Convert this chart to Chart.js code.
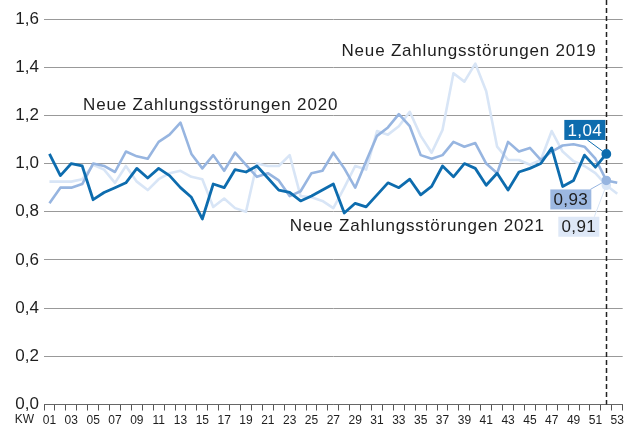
<!DOCTYPE html>
<html>
<head>
  <meta charset="UTF-8">
  <title>Neue Zahlungsstörungen</title>
  <script src="https://cdn.jsdelivr.net/npm/chart.js"></script>
  <style>
    html, body { margin: 0; padding: 0; background: #fff; }
    #wrap { width: 629px; height: 430px; }
  </style>
</head>
<body>
  <div id="wrap"><canvas id="chart" width="629" height="430"></canvas></div>
  <script>
    // Kalenderwochen
    const weeks = ['01','02','03','04','05','06','07','08','09','10',
                   '11','12','13','14','15','16','17','18','19','20',
                   '21','22','23','24','25','26','27','28','29','30',
                   '31','32','33','34','35','36','37','38','39','40',
                   '41','42','43','44','45','46','47','48','49','50',
                   '51','52','53'];

    const y2021 = [1.04, 0.95, 1.00, 0.99, 0.85, 0.88, 0.90, 0.92, 0.98, 0.94,
                   0.98, 0.95, 0.90, 0.86, 0.77, 0.915, 0.90, 0.975, 0.965, 0.99,
                   0.94, 0.89, 0.88, 0.845, 0.865, 0.89, 0.915, 0.795, 0.835, 0.82,
                   0.87, 0.92, 0.90, 0.935, 0.87, 0.905, 0.99, 0.945, 1.00, 0.98,
                   0.91, 0.96, 0.89, 0.965, 0.98, 1.00, 1.065, 0.905, 0.93, 1.035,
                   0.985, 1.04];

    const y2020 = [0.835, 0.90, 0.90, 0.915, 1.00, 0.99, 0.965, 1.05, 1.03, 1.02,
                   1.09, 1.12, 1.17, 1.04, 0.98, 1.035, 0.97, 1.045, 0.995, 0.945,
                   0.96, 0.93, 0.865, 0.885, 0.96, 0.97, 1.045, 0.98, 0.90, 1.01,
                   1.115, 1.15, 1.205, 1.155, 1.035, 1.02, 1.035, 1.09, 1.07, 1.085,
                   1.00, 0.96, 1.09, 1.05, 1.065, 1.015, 1.05, 1.075, 1.08, 1.07,
                   1.02, 0.93, 0.92];

    const y2019 = [0.925, 0.925, 0.925, 0.935, 0.995, 0.975, 0.92, 0.99, 0.925, 0.89,
                   0.935, 0.96, 0.97, 0.945, 0.935, 0.82, 0.855, 0.815, 0.80, 1.00,
                   0.99, 0.99, 1.035, 0.865, 0.86, 0.845, 0.815, 0.90, 0.99, 0.975,
                   1.135, 1.12, 1.155, 1.215, 1.115, 1.045, 1.14, 1.375, 1.34, 1.415,
                   1.30, 1.07, 1.015, 1.015, 0.995, 1.015, 1.135, 1.05, 1.01, 0.99,
                   0.96, 0.91, 0.875];

    const seriesNames = ['Neue Zahlungsstörungen 2021',
                         'Neue Zahlungsstörungen 2020',
                         'Neue Zahlungsstörungen 2019'];
    const endValues = ['1,04', '0,93', '0,91'];

    const DARK = '#0d6cae';
    const MID = '#97b5e0';
    const LIGHT = '#d8e5f6';
    const TEXT = '#1e1e1e';
    const markIndex = 51;  // KW 52

    const textFont = '17px "Liberation Sans", Arial, sans-serif';
    const axisFont = '12px "Liberation Sans Narrow", "Arial Narrow", sans-serif';

    // where the series names sit (index on x, value on y = baseline)
    const nameSpots = [
      { idx: 22.0, val: 0.72 },
      { idx: 3.08, val: 1.224 },
      { idx: 26.75, val: 1.448 }
    ];
    // value boxes near the last point (pixel offsets from the point)
    const boxSpots = [
      { dx: -42, dy: -34, fill: DARK, color: '#fff', lx: -19, ly: -14 },
      { dx: -56, dy: 9, fill: '#9cb8e1', color: TEXT, lx: -16, ly: 9 },
      { dx: -48, dy: 31.5, fill: '#dee8f7', color: TEXT, lx: -12, ly: 31.5 }
    ];

    const dashLine = {
      id: 'dashLine',
      beforeDatasetsDraw(chart) {
        const {ctx, chartArea, scales: {x}} = chart;
        const xm = Math.round(x.getPixelForValue(markIndex)) + 0.5;
        ctx.save();
        ctx.setLineDash([5, 3]);
        ctx.lineWidth = 1.5;
        ctx.strokeStyle = '#222';
        ctx.beginPath();
        ctx.moveTo(xm, 0);
        ctx.lineTo(xm, chartArea.bottom);
        ctx.stroke();
        ctx.restore();
      }
    };

    const overlay = {
      id: 'overlay',
      afterDraw(chart) {
        const {ctx, chartArea, scales: {x, y}} = chart;
        ctx.save();
        ctx.fillStyle = TEXT;
        ctx.font = axisFont;
        ctx.textAlign = 'right';
        ctx.textBaseline = 'top';
        ctx.fillText('KW', chartArea.left - 10, x.top + 6 + 3);

        ctx.font = textFont;
        ctx.letterSpacing = '0.8px';
        ctx.textAlign = 'left';
        ctx.textBaseline = 'alphabetic';
        nameSpots.forEach((s, i) => {
          ctx.fillText(seriesNames[i], x.getPixelForValue(s.idx), y.getPixelForValue(s.val));
        });
        ctx.letterSpacing = '0.4px';

        chart.data.datasets.forEach((ds, i) => {
          const meta = chart.getDatasetMeta(i);
          const pt = meta.data[markIndex];
          const b = boxSpots[i];
          const w = 41;
          const h = 20;
          ctx.strokeStyle = ds.borderColor;
          ctx.lineWidth = 1;
          ctx.beginPath();
          ctx.moveTo(pt.x + b.lx, pt.y + b.ly);
          ctx.lineTo(pt.x, pt.y);
          ctx.stroke();
          ctx.fillStyle = b.fill;
          const bx = pt.x + b.dx;
          const by = pt.y + b.dy;
          ctx.fillRect(bx, by, w, h);
          ctx.fillStyle = b.color;
          ctx.textAlign = 'center';
          ctx.textBaseline = 'middle';
          ctx.fillText(endValues[i], bx + w / 2, by + h / 2 + 1);
        });
        ctx.restore();
      }
    };

    const dotAtEnd = c => c.dataIndex === markIndex ? 3.5 : 0;

    new Chart(document.getElementById('chart'), {
      type: 'line',
      data: {
        labels: weeks,
        datasets: [
          { label: seriesNames[0], data: y2021, borderColor: DARK, backgroundColor: DARK,
            borderWidth: 2.8, pointRadius: dotAtEnd },
          { label: seriesNames[1], data: y2020, borderColor: MID, backgroundColor: MID,
            borderWidth: 2.6, pointRadius: dotAtEnd },
          { label: seriesNames[2], data: y2019, borderColor: LIGHT, backgroundColor: LIGHT,
            borderWidth: 2.6, pointRadius: dotAtEnd }
        ]
      },
      options: {
        responsive: false,
        animation: false,
        layout: { padding: { top: 19, right: -2, bottom: 0, left: 0 } },
        elements: {
          line: { tension: 0, borderJoinStyle: 'round' },
          point: { borderWidth: 0, hoverRadius: 0 }
        },
        plugins: { legend: { display: false }, tooltip: { enabled: false } },
        scales: {
          x: {
            offset: true,
            afterFit: s => { s.height = 25.5; },
            grid: { offset: true, drawOnChartArea: false, drawTicks: true, tickLength: 6, color: '#555' },
            border: { display: true, color: '#666', width: 1 },
            ticks: {
              autoSkip: false, maxRotation: 0, padding: 3, color: TEXT,
              font: { family: '"Liberation Sans Narrow", "Arial Narrow", sans-serif', size: 12 },
              callback: (v, i) => i % 2 === 0 ? weeks[i] : ''
            }
          },
          y: {
            min: 0, max: 1.6,
            afterFit: s => { s.width = 44; },
            grid: { color: '#999', lineWidth: 1, drawTicks: false },
            border: { display: false },
            ticks: {
              stepSize: 0.2, padding: 5, color: TEXT,
              font: { family: '"Liberation Sans", Arial, sans-serif', size: 17 },
              callback: v => v.toFixed(1).replace('.', ',')
            }
          }
        }
      },
      plugins: [dashLine, overlay]
    });
  </script>
</body>
</html>
